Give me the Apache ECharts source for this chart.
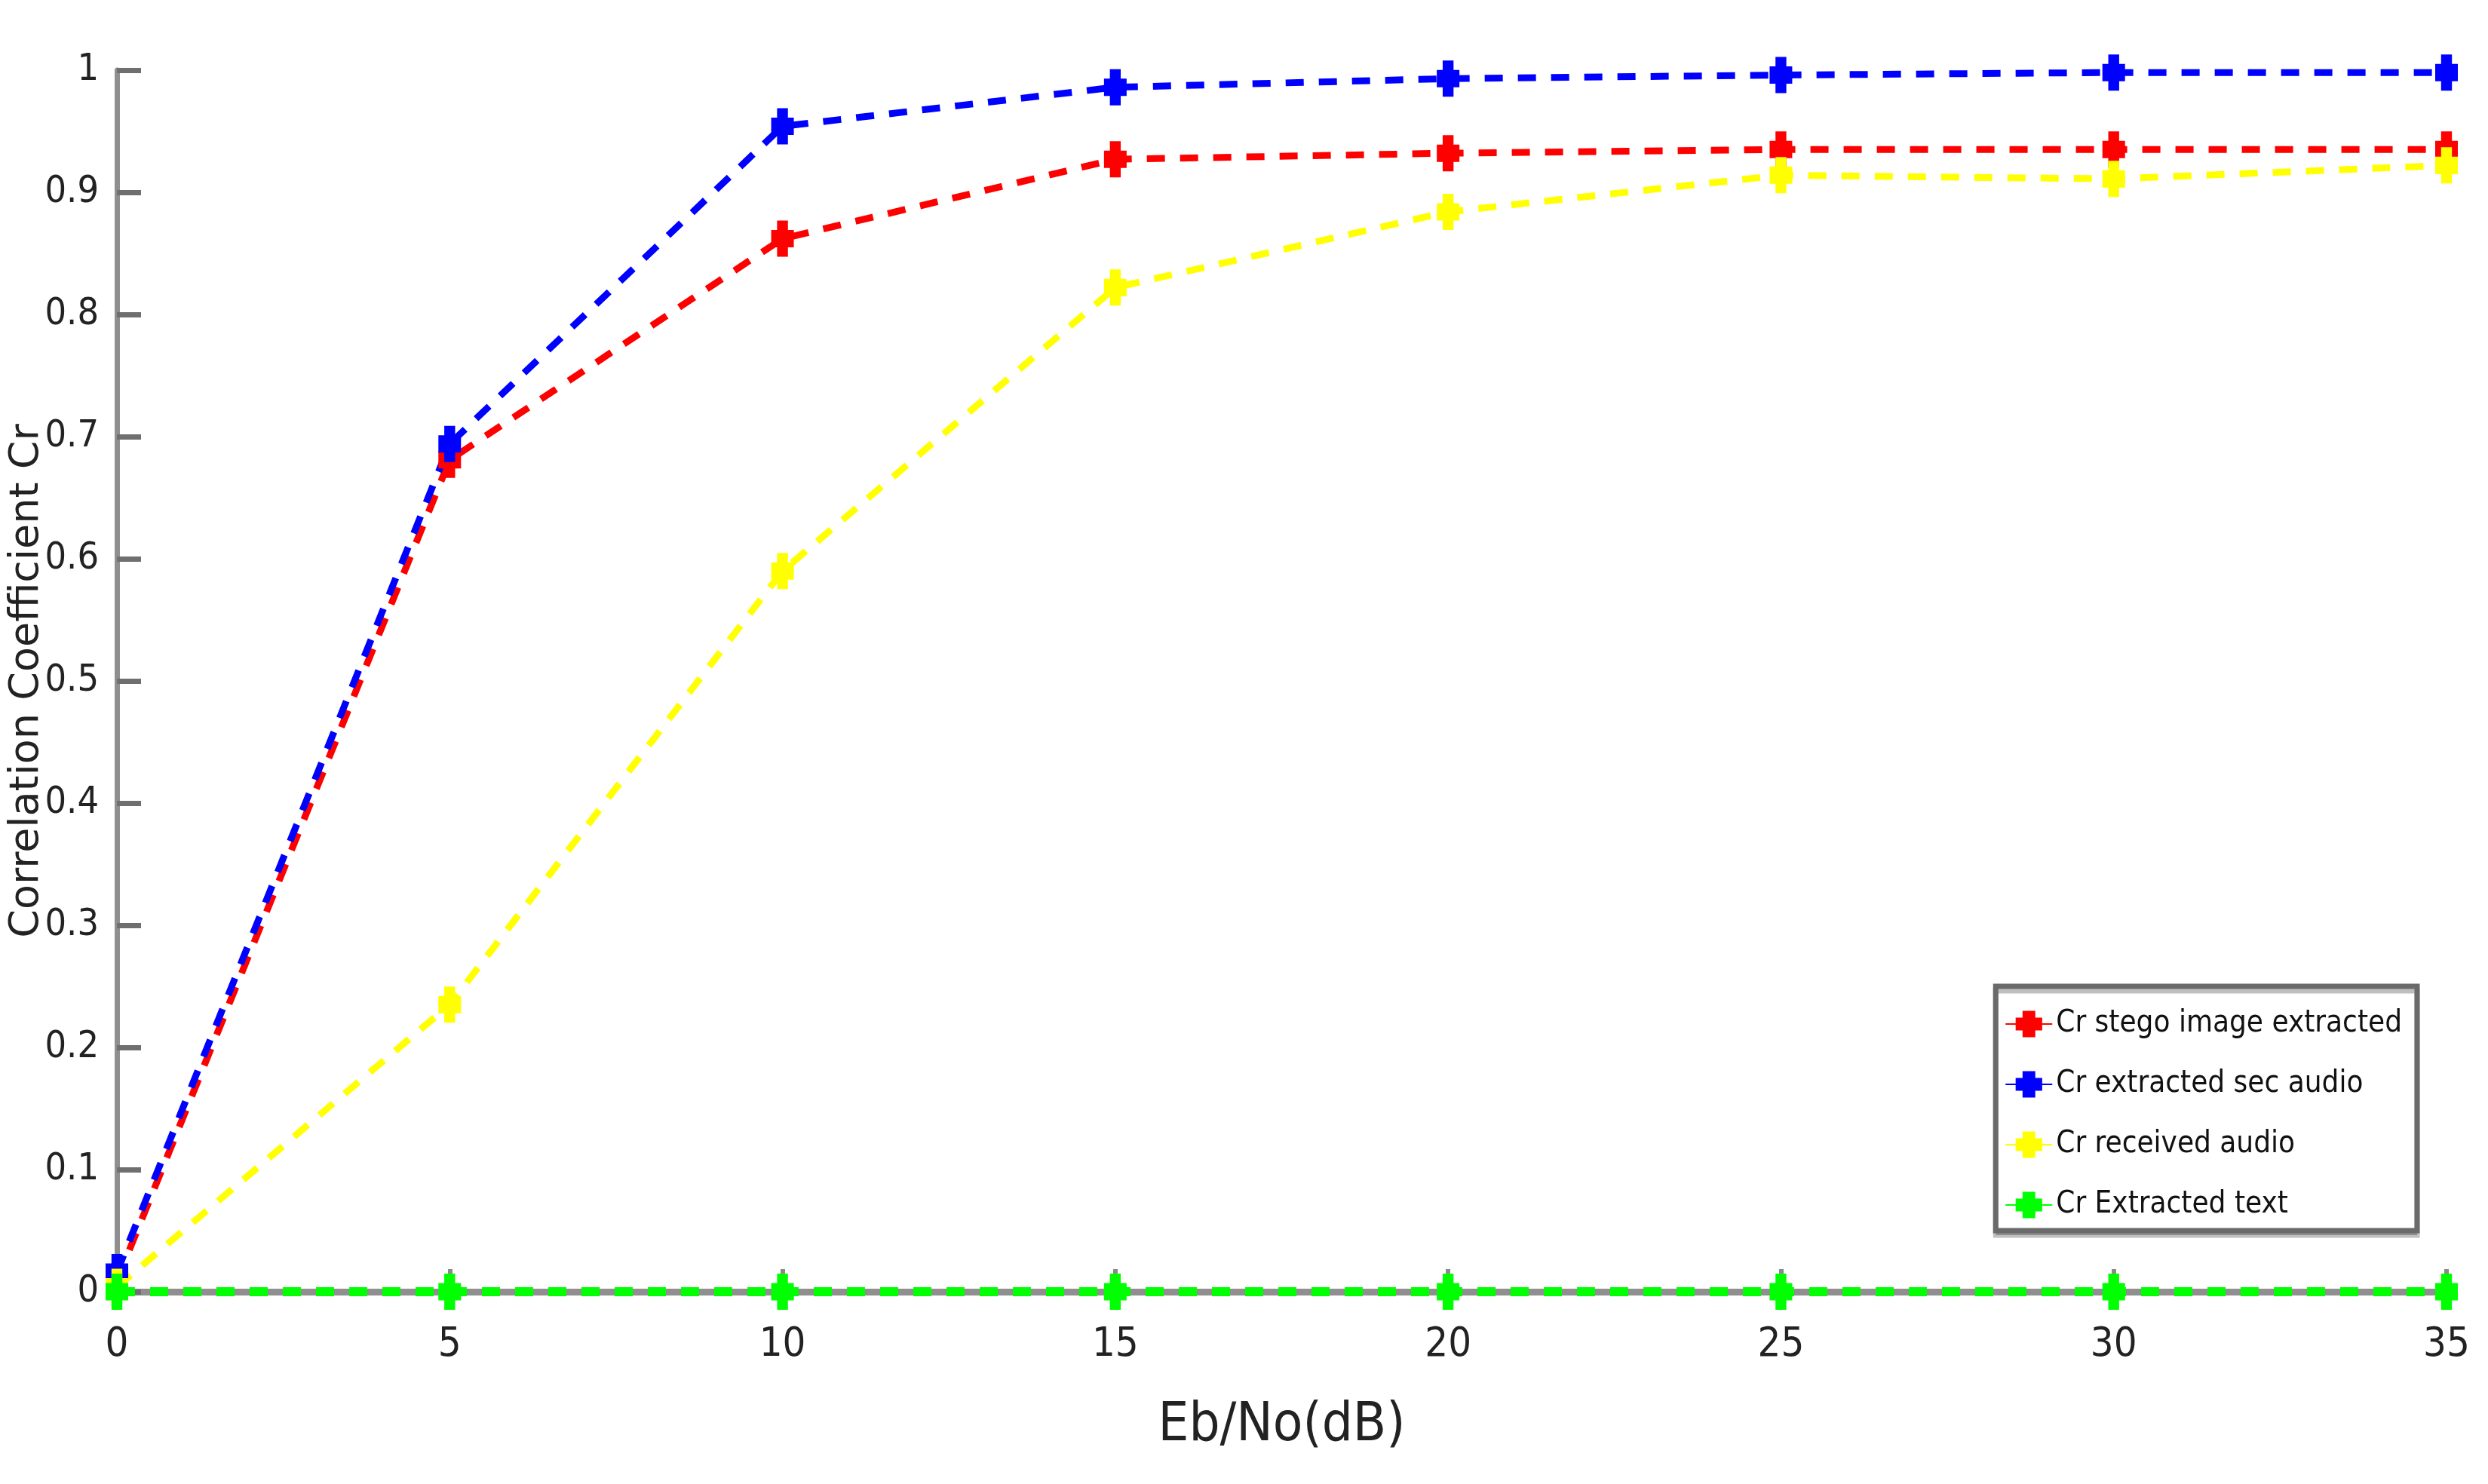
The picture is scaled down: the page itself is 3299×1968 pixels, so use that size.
<!DOCTYPE html>
<html>
<head>
<meta charset="utf-8">
<title>Correlation Coefficient Cr</title>
<script src="https://cdn.jsdelivr.net/npm/echarts@6/dist/echarts.min.js"></script>
<style>
  html, body { margin: 0; padding: 0; background: #fff; }
  #chart { width: 3299px; height: 1968px; }
</style>
</head>
<body>
<div id="chart"></div>
<script>
// Eb/No values (dB)
var ebno = [0, 5, 10, 15, 20, 25, 30, 35];

var stegoImage  = [0.009, 0.681, 0.862, 0.927, 0.932, 0.935, 0.935, 0.935];
var secAudio    = [0.016, 0.694, 0.954, 0.986, 0.993, 0.996, 0.998, 0.998];
var recvAudio   = [0.004, 0.235, 0.590, 0.822, 0.884, 0.914, 0.911, 0.922];
var extractText = [0, 0, 0, 0, 0, 0, 0, 0];

var names  = ['Cr stego image extracted', 'Cr extracted sec audio', 'Cr received audio', 'Cr Extracted text'];
var colors = ['#ff0000', '#0000ff', '#ffff00', '#00ff00'];

var narrow = "'Liberation Sans Narrow', 'DejaVu Sans Condensed', 'Liberation Sans', sans-serif";
// fat plus sign, stretched taller than wide like the original markers
var cross = 'path://M2.6,0 L7.4,0 L7.4,2.6 L10,2.6 L10,7.4 L7.4,7.4 L7.4,10 L2.6,10 L2.6,7.4 L0,7.4 L0,2.6 L2.6,2.6 Z';

function pairs(ys) {
    return ebno.map(function (x, i) { return [x, ys[i]]; });
}

function makeSeries(name, ys, color, width) {
    return {
        name: name,
        type: 'line',
        data: pairs(ys),
        symbol: cross,
        symbolSize: [30, 48],
        itemStyle: { color: color },
        lineStyle: { color: color, width: width, type: [24, 20] },
        animation: false
    };
}

var option = {
    backgroundColor: '#fff',
    color: colors,
    grid: { left: 155, right: 55, top: 93, bottom: 255, outerBoundsMode: 'none', containLabel: false },
    legend: {
        orient: 'vertical',
        right: 94,
        top: 1308,
        padding: [30, 20, 14, 12],
        itemGap: 40,
        itemWidth: 62,
        itemHeight: 44,
        backgroundColor: '#fff',
        borderColor: '#6a6a6a',
        borderWidth: 7,
        shadowColor: 'rgba(0,0,0,0.25)',
        shadowOffsetY: 6,
        textStyle: { fontFamily: narrow, fontSize: 40, color: '#111' },
        data: names
    },
    xAxis: {
        type: 'value',
        min: 0,
        max: 35,
        interval: 5,
        name: 'Eb/No(dB)',
        nameLocation: 'middle',
        nameGap: 142,
        nameMoveOverlap: false,
        nameTextStyle: { fontFamily: narrow, fontSize: 72, color: '#222' },
        axisLine: { show: true, lineStyle: { color: '#8f8f8f', width: 9 } },
        axisTick: { show: true, inside: true, length: 30, lineStyle: { color: '#8a8a8a', width: 6 } },
        axisLabel: { margin: 44, fontFamily: narrow, fontSize: 54, color: '#222' },
        splitLine: { show: false }
    },
    yAxis: {
        type: 'value',
        min: 0,
        max: 1,
        interval: 0.1,
        name: 'Correlation Coefficient Cr',
        nameLocation: 'middle',
        nameGap: 92,
        nameMoveOverlap: false,
        nameTextStyle: { fontFamily: "'DejaVu Sans', 'Liberation Sans', sans-serif", fontSize: 54, color: '#222' },
        axisLine: { show: true, lineStyle: { color: '#8f8f8f', width: 7 } },
        axisTick: { show: true, inside: true, length: 32, lineStyle: { color: '#6f6f6f', width: 7 } },
        axisLabel: { margin: 24, fontFamily: narrow, fontSize: 50, color: '#222' },
        splitLine: { show: false }
    },
    series: [
        makeSeries(names[0], stegoImage, colors[0], 9),
        makeSeries(names[1], secAudio, colors[1], 9),
        makeSeries(names[2], recvAudio, colors[2], 9),
        makeSeries(names[3], extractText, colors[3], 12)
    ]
};

echarts.init(document.getElementById('chart')).setOption(option);
</script>
</body>
</html>
